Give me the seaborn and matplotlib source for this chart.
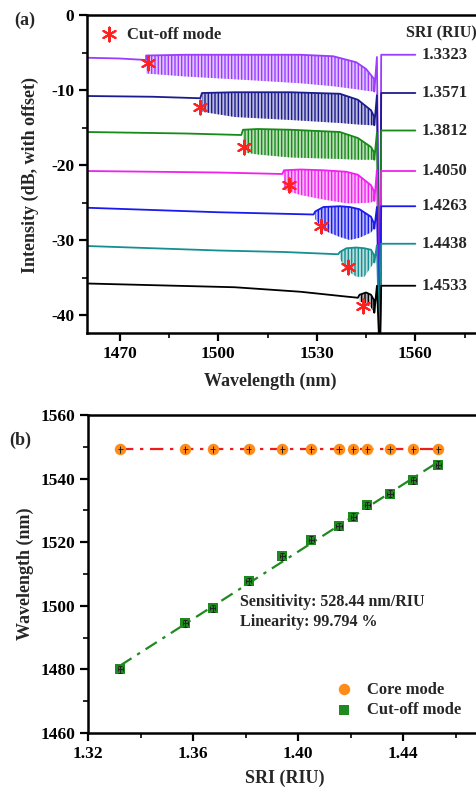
import numpy as np
import pandas as pd
import matplotlib
matplotlib.use("Agg")
import matplotlib.pyplot as plt
import seaborn as sns

# ---- panel (a): transmission spectra ----
sri_labels = ['1.3323', '1.3571', '1.3812', '1.4050', '1.4263', '1.4438', '1.4533']
colors = ['#9b3cff', '#1c1c8e', '#188a18', '#f020f0', '#1a1aee', '#158f8f', '#000000']

# flat part before the cut-off mode
base_wl = [
    [1460, 1470, 1478],
    [1460, 1480, 1494.5],
    [1460, 1490, 1507],
    [1460, 1500, 1519.5],
    [1460, 1500, 1529],
    [1460, 1500, 1520, 1536.5],
    [1460, 1505, 1525, 1538, 1542.5],
]
base_db = [
    [-5.7, -5.8, -6.0],
    [-10.8, -10.9, -11.1],
    [-15.6, -15.8, -16.0],
    [-20.8, -21.0, -21.2],
    [-25.7, -26.3, -26.6],
    [-30.8, -31.4, -31.6, -31.9],
    [-35.8, -36.3, -36.9, -37.5, -37.7],
]
# fringe region: upper and lower envelope
band_wl = [
    [1478, 1490, 1510, 1525, 1535, 1542, 1545, 1547.4],
    [1495, 1505, 1522, 1537, 1542.5, 1546.5, 1547.4],
    [1507.5, 1512, 1522, 1537, 1542.5, 1546.5, 1547.4],
    [1520, 1525, 1532, 1539, 1542.5, 1546.5, 1547.4],
    [1529.5, 1532, 1537, 1540, 1543, 1546.5, 1547.4],
    [1537, 1539, 1542, 1544.5, 1546.5, 1547.4],
    [1543, 1545, 1546.5, 1547.4],
]
band_top = [
    [-5.4, -5.3, -5.3, -5.3, -5.5, -6.3, -7.2, -8.5],
    [-10.4, -10.3, -10.3, -10.5, -11.3, -12.7, -13.5],
    [-15.3, -15.2, -15.3, -15.6, -16.4, -17.6, -18.3],
    [-20.7, -20.6, -20.7, -20.9, -21.3, -22.7, -23.5],
    [-26.2, -25.6, -25.5, -25.6, -25.9, -26.9, -27.8],
    [-31.6, -31.1, -31.0, -31.1, -31.3, -32.0],
    [-37.3, -37.0, -37.3, -38.0],
]
band_bot = [
    [-7.8, -8.2, -8.7, -9.1, -9.5, -9.9, -10.1, -10.2],
    [-12.9, -13.6, -14.0, -14.4, -14.6, -14.7, -14.7],
    [-18.3, -18.6, -19.0, -19.2, -19.3, -19.3, -19.3],
    [-23.3, -24.0, -24.6, -25.1, -25.1, -25.0, -24.8],
    [-27.2, -28.7, -29.6, -30.0, -29.7, -29.0, -28.5],
    [-32.5, -34.0, -34.9, -34.9, -33.6, -33.0],
    [-38.2, -38.5, -39.0, -39.7],
]
# after the fringes: small peak, deep core-mode dip, flat tail
tail_wl = [1548.3, 1549.2, 1549.6, 1560]
tail_db = [
    [-5.6, -46, -5.3, -5.3],
    [-10.7, -46, -10.4, -10.4],
    [-15.7, -46, -15.4, -15.4],
    [-20.7, -46, -20.8, -20.8],
    [-25.6, -46, -25.5, -25.5],
    [-30.7, -46, -30.5, -30.5],
    [-36.1, -46, -36.1, -36.1],
]
cut_wl = [1478.7, 1494.5, 1507.7, 1521.6, 1531.2, 1539.4, 1544.2]
cut_db = [-6.4, -12.2, -17.6, -22.7, -28.1, -33.6, -38.8]

# ---- panel (b): resonance wavelength vs SRI ----
sri = [1.3323, 1.3571, 1.3675, 1.3812, 1.3940, 1.4050, 1.4156, 1.4210, 1.4263, 1.4350, 1.4438, 1.4533]
core_wl = [1549.2] * 12
cutoff_wl = [1480.0, 1494.5, 1499.2, 1507.7, 1515.6, 1520.8, 1525.0, 1528.0, 1531.6, 1535.2, 1539.5, 1544.3]
sri_err = 0.001
wl_err = 1.1

sns.set_theme(style='ticks')
plt.rcParams['font.family'] = ['Liberation Serif', 'DejaVu Serif']
plt.rcParams['font.weight'] = 'bold'
plt.rcParams['axes.labelweight'] = 'bold'
plt.rcParams['axes.unicode_minus'] = False
plt.rcParams['hatch.linewidth'] = 1.0

W, H = 477, 793
fig = plt.figure(figsize=(W / 100, H / 100), dpi=100)
ax1 = fig.add_axes([87 / W, 1 - 333 / H, 394 / W, 318 / H])
ax2 = fig.add_axes([88 / W, 1 - 733 / H, 394 / W, 318 / H])

for i in range(len(sri_labels)):
    c = colors[i]
    # envelope top, then drop to the last fringe bottom, peak, core dip, tail
    wl = base_wl[i] + band_wl[i] + [band_wl[i][-1] + 0.1] + tail_wl
    db = base_db[i] + band_top[i] + [band_bot[i][-1]] + tail_db[i]
    sns.lineplot(x=wl, y=db, ax=ax1, color=c, lw=1.3, sort=False, estimator=None)
    ax1.fill_between(band_wl[i], band_bot[i], band_top[i], facecolor=matplotlib.colors.to_rgba(c, 0.3),
                     edgecolor=c, linewidth=0, hatch='|||||')
    ax1.text(1561.8, tail_db[i][-1], sri_labels[i], fontsize=12, fontweight='bold', va='center', ha='left')

sns.scatterplot(x=cut_wl, y=cut_db, ax=ax1, marker=(6, 2, 0), s=100, color='#ff2020',
                linewidth=1.5, edgecolor='#ff2020', zorder=5, label='Cut-off mode')
ax1.text(1578.6, -2.4, 'SRI (RIU)', fontsize=11.5, fontweight='bold', ha='right', va='center')
ax1.legend(loc='upper left', frameon=False, fontsize=12, handletextpad=0.05,
           borderaxespad=0.3, bbox_to_anchor=(-0.015, 1.0))

ax1.set_xlim(1460, 1580)
ax1.set_ylim(-42.4, 0)
ax1.set_xticks([1470, 1500, 1530, 1560])
ax1.set_xticks([1485, 1515, 1545, 1575], minor=True)
ax1.set_yticks([0, -10, -20, -30, -40])
ax1.set_yticks([-5, -15, -25, -35], minor=True)
ax1.set_xlabel('Wavelength (nm)', fontsize=13)
ax1.set_ylabel('Intensity (dB, with offset)', fontsize=13)
ax1.xaxis.set_label_coords(0.464, -0.125)
ax1.yaxis.set_label_coords(-0.122, 0.497)

# panel (b)
df = pd.DataFrame({'sri': sri, 'core': core_wl, 'cut': cutoff_wl})
sns.lineplot(data=df, x='sri', y='core', ax=ax2, color='#ee1c1c', lw=1.6, ls=(0, (6, 3, 1.5, 3)))
sns.regplot(data=df, x='sri', y='cut', ax=ax2, scatter=False, ci=None,
            line_kws=dict(color='#1f8a1f', lw=1.6, ls=(0, (6, 3, 1.5, 3))))
sns.scatterplot(data=df, x='sri', y='core', ax=ax2, color='#ff8c1a', s=68, edgecolor='#ff8c1a',
                linewidth=0, zorder=4, label='Core mode')
sns.scatterplot(data=df, x='sri', y='cut', ax=ax2, color='#1f8a1f', marker='s', s=50, edgecolor='#1f8a1f',
                linewidth=0, zorder=4, label='Cut-off mode')
ax2.errorbar(df['sri'], df['core'], xerr=sri_err, yerr=wl_err, fmt='none', ecolor='#222222',
             elinewidth=0.7, capsize=0, zorder=5)
ax2.errorbar(df['sri'], df['cut'], xerr=sri_err, yerr=wl_err, fmt='none', ecolor='#222222',
             elinewidth=0.7, capsize=1.5, capthick=0.7, zorder=5)
ax2.text(1.3779, 1501.1, 'Sensitivity: 528.44 nm/RIU', fontsize=11.5, fontweight='bold', va='center')
ax2.text(1.3779, 1494.8, 'Linearity: 99.794 %', fontsize=11.5, fontweight='bold', va='center')
ax2.legend(loc='lower right', frameon=False, fontsize=12, handletextpad=0.4, labelspacing=0.25,
           bbox_to_anchor=(0.985, 0.0))

ax2.set_xlim(1.32, 1.47)
ax2.set_ylim(1460, 1560)
ax2.set_xticks([1.32, 1.36, 1.40, 1.44])
ax2.set_xticks([1.34, 1.38, 1.42, 1.46], minor=True)
ax2.set_xticklabels(['1.32', '1.36', '1.40', '1.44'])
ax2.set_yticks([1460, 1480, 1500, 1520, 1540, 1560])
ax2.set_yticks([1470, 1490, 1510, 1530, 1550], minor=True)
ax2.set_xlabel('SRI (RIU)', fontsize=13)
ax2.set_ylabel('Wavelength (nm)', fontsize=13)
ax2.xaxis.set_label_coords(0.5, -0.115)
ax2.yaxis.set_label_coords(-0.137, 0.5)

for ax in (ax1, ax2):
    for s in ax.spines.values():
        s.set_linewidth(1.8)
        s.set_color('black')
    ax.tick_params(which='major', direction='out', length=6, width=1.6, labelsize=12.5, colors='black', pad=3)
    ax.tick_params(which='minor', direction='out', length=3.5, width=1.4)
    for lab in ax.get_xticklabels() + ax.get_yticklabels():
        lab.set_fontweight('bold')

fig.text(25 / W, 1 - 20 / H, '(a)', fontsize=13, fontweight='bold', ha='center', va='center')
fig.text(20 / W, 1 - 440 / H, '(b)', fontsize=13, fontweight='bold', ha='center', va='center')

fig.savefig('out.png', dpi=100)
